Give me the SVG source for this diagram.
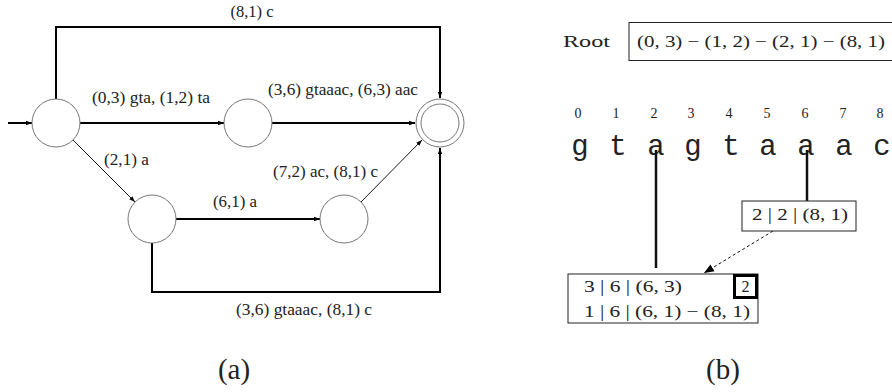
<svg xmlns="http://www.w3.org/2000/svg" width="892" height="392" viewBox="0 0 892 392">
<style>
.lbl{font-family:"Liberation Serif","DejaVu Serif",serif;font-size:16px;fill:#222}
.big{font-family:"Liberation Serif","DejaVu Serif",serif;font-size:29px;fill:#222}
.idx{font-family:"Liberation Serif","DejaVu Serif",serif;font-size:14px;fill:#222}
.tt{font-family:"Liberation Mono","DejaVu Sans Mono",monospace;font-size:29px;fill:#222}
.st{fill:#fff;stroke:#777;stroke-width:1}
.thick{fill:none;stroke:#000;stroke-width:2}
.thin{fill:none;stroke:#000;stroke-width:0.9}
.box{fill:#fff;stroke:#222;stroke-width:1}
</style>
<defs>
<marker id="ah" markerUnits="userSpaceOnUse" markerWidth="8" markerHeight="6" refX="6" refY="3" orient="auto">
<path d="M0,0.8 L6,3 L0,5.2 Z" fill="#000"/>
</marker>
<marker id="ahb" markerUnits="userSpaceOnUse" markerWidth="12" markerHeight="10" refX="10" refY="5" orient="auto">
<path d="M0,1 L10,5 L0,9 Z" fill="#000"/>
</marker>
</defs>

<!-- Part (a) -->
<g id="connectors-a">
<path class="thick" d="M8,123 L32,123" marker-end="url(#ah)" stroke-width="2.5"/>
<path class="thick" d="M56,99 L56,27 L440,27 L440,98" marker-end="url(#ah)"/>
<path class="thick" d="M80,123 L224,123" marker-end="url(#ah)"/>
<path class="thick" d="M272,123 L415,123" marker-end="url(#ah)"/>
<path class="thin" d="M73,140 L135,202" marker-end="url(#ah)"/>
<path class="thick" d="M176,219 L320,219" marker-end="url(#ah)"/>
<path class="thin" d="M361,202 L422,140" marker-end="url(#ah)"/>
<path class="thick" d="M152,243 L152,292 L440,292 L440,148" marker-end="url(#ah)"/>
</g>
<g id="labels-a">
<text class="lbl" x="252" y="17" text-anchor="middle" textLength="43" lengthAdjust="spacingAndGlyphs">(8,1) c</text>
<text class="lbl" x="92" y="103" textLength="118" lengthAdjust="spacingAndGlyphs">(0,3) gta, (1,2) ta</text>
<text class="lbl" x="268" y="95" textLength="150" lengthAdjust="spacingAndGlyphs">(3,6) gtaaac, (6,3) aac</text>
<text class="lbl" x="104" y="165" textLength="45" lengthAdjust="spacingAndGlyphs">(2,1) a</text>
<text class="lbl" x="273" y="177" textLength="105" lengthAdjust="spacingAndGlyphs">(7,2) ac, (8,1) c</text>
<text class="lbl" x="213" y="207" textLength="44" lengthAdjust="spacingAndGlyphs">(6,1) a</text>
<text class="lbl" x="236" y="315" textLength="136" lengthAdjust="spacingAndGlyphs">(3,6) gtaaac, (8,1) c</text>
<text class="big" x="234" y="379" text-anchor="middle">(a)</text>
</g>
<g id="s0"><circle class="st" cx="56" cy="123" r="24"/></g>
<g id="s1"><circle class="st" cx="248" cy="123" r="24"/></g>
<g id="s2"><circle class="st" cx="152" cy="219" r="24"/></g>
<g id="s3"><circle class="st" cx="344" cy="219" r="24"/></g>
<g id="sf"><circle class="st" cx="440" cy="123" r="24"/><circle class="st" cx="440" cy="123" r="19"/></g>

<!-- Part (b) -->
<g id="root">
<text class="lbl" x="563" y="47" font-size="17" textLength="47" lengthAdjust="spacingAndGlyphs">Root</text>
<rect class="box" x="629" y="22.5" width="280" height="38"/>
<text class="lbl" x="637" y="47" textLength="248" lengthAdjust="spacingAndGlyphs">(0, 3) − (1, 2) − (2, 1) − (8, 1)</text>
</g>
<g id="sequence">
<text class="idx" x="578" y="118" text-anchor="middle">0</text>
<text class="idx" x="616" y="118" text-anchor="middle">1</text>
<text class="idx" x="654" y="118" text-anchor="middle">2</text>
<text class="idx" x="691" y="118" text-anchor="middle">3</text>
<text class="idx" x="729" y="118" text-anchor="middle">4</text>
<text class="idx" x="767" y="118" text-anchor="middle">5</text>
<text class="idx" x="805" y="118" text-anchor="middle">6</text>
<text class="idx" x="843" y="118" text-anchor="middle">7</text>
<text class="idx" x="880" y="118" text-anchor="middle">8</text>
<text class="tt" x="580" y="155" text-anchor="middle">g</text>
<text class="tt" x="618" y="155" text-anchor="middle">t</text>
<text class="tt" x="656" y="155" text-anchor="middle">a</text>
<text class="tt" x="693" y="155" text-anchor="middle">g</text>
<text class="tt" x="731" y="155" text-anchor="middle">t</text>
<text class="tt" x="768" y="155" text-anchor="middle">a</text>
<text class="tt" x="806" y="155" text-anchor="middle">a</text>
<text class="tt" x="844" y="155" text-anchor="middle">a</text>
<text class="tt" x="882" y="155" text-anchor="middle">c</text>
</g>
<g id="connectors-b">
<path d="M656,150 L656,268" stroke="#111" stroke-width="2.5" fill="none"/>
<path d="M807,150 L807,201" stroke="#111" stroke-width="2.5" fill="none"/>
<path d="M773,231 L704,273" stroke="#111" stroke-width="1" stroke-dasharray="3,2.5" fill="none" marker-end="url(#ahb)"/>
</g>
<g id="node-222">
<rect class="box" x="742" y="201" width="114" height="30"/>
<text class="lbl" x="752" y="220" textLength="96" lengthAdjust="spacingAndGlyphs">2 | 2 | (8, 1)</text>
</g>
<g id="node-list">
<rect class="box" x="568" y="274" width="190" height="49"/>
<text class="lbl" x="584" y="292" textLength="98" lengthAdjust="spacingAndGlyphs">3 | 6 | (6, 3)</text>
<text class="lbl" x="584" y="317" textLength="166" lengthAdjust="spacingAndGlyphs">1 | 6 | (6, 1) − (8, 1)</text>
<rect x="734.5" y="275.5" width="22" height="22" fill="#fff" stroke="#000" stroke-width="3"/>
<text class="lbl" x="745.5" y="292" text-anchor="middle">2</text>
</g>
<text class="big" x="723" y="379" text-anchor="middle">(b)</text>
</svg>
